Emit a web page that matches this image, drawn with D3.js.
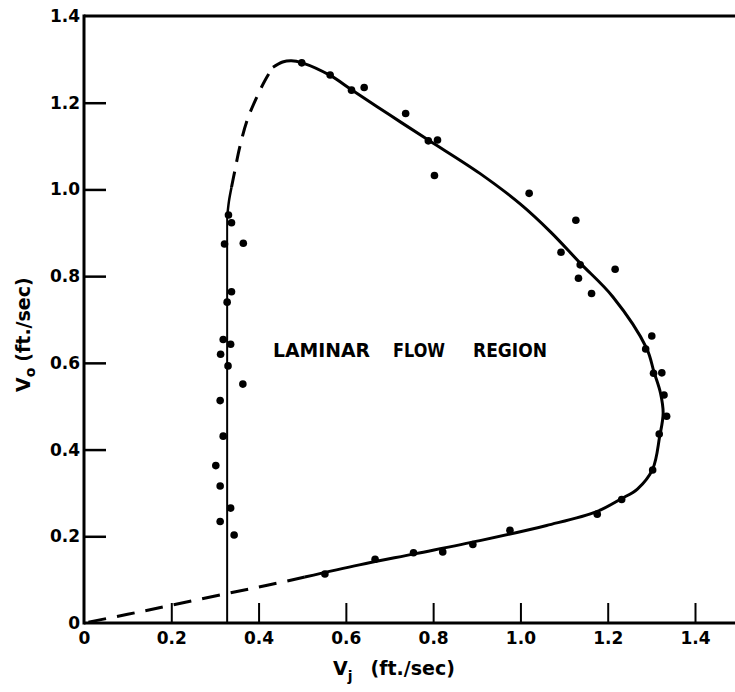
<!DOCTYPE html>
<html>
<head>
<meta charset="utf-8">
<script src="https://cdn.jsdelivr.net/npm/d3@7"></script>
<style>
  html, body { margin: 0; padding: 0; background: #fff; }
  svg { display: block; }
  text { font-family: "DejaVu Sans", sans-serif; fill: #000; }
</style>
</head>
<body>
<svg id="chart" width="735" height="692"></svg>
<script>
// Measured jet velocity Vj and outer velocity Vo (ft./sec)
const vj = [0.499, 0.564, 0.613, 0.642, 0.737, 0.789, 0.810, 0.803, 1.020, 1.127,
            1.093, 1.137, 1.217, 1.133, 1.163, 1.301, 1.287, 1.305, 1.324, 1.329,
            1.335, 1.318, 1.303, 1.232, 1.176, 0.976, 0.891, 0.822, 0.755, 0.667,
            0.552,
            0.331, 0.338, 0.322, 0.365, 0.338, 0.328, 0.319, 0.336, 0.313, 0.330,
            0.364, 0.312, 0.319, 0.302, 0.312, 0.336, 0.312, 0.344];
const vo = [1.292, 1.264, 1.229, 1.235, 1.175, 1.112, 1.114, 1.032, 0.991, 0.929,
            0.855, 0.826, 0.816, 0.795, 0.760, 0.662, 0.632, 0.576, 0.577, 0.526,
            0.477, 0.436, 0.353, 0.285, 0.251, 0.214, 0.181, 0.164, 0.162, 0.147,
            0.113,
            0.941, 0.923, 0.874, 0.876, 0.764, 0.740, 0.654, 0.643, 0.620, 0.593,
            0.551, 0.513, 0.431, 0.363, 0.316, 0.265, 0.234, 0.203];

// Boundary of the laminar flow region, [Vj, Vo]
const boundarySolid = [[0.433, 1.282], [0.455, 1.294], [0.475, 1.297], [0.500, 1.292],
  [0.564, 1.263], [0.613, 1.230], [0.700, 1.172], [0.789, 1.114], [0.907, 1.037],
  [1.000, 0.966], [1.070, 0.901], [1.137, 0.830], [1.212, 0.752], [1.289, 0.634],
  [1.306, 0.579], [1.321, 0.530], [1.327, 0.484], [1.319, 0.430], [1.303, 0.355],
  [1.268, 0.309], [1.232, 0.287], [1.175, 0.257], [1.060, 0.225], [0.907, 0.190],
  [0.760, 0.160], [0.631, 0.134], [0.506, 0.106]];
const boundaryLowerDashed = [[0.506, 0.106], [0.420, 0.087], [0.328, 0.068],
  [0.200, 0.041], [0.100, 0.020], [0.0, 0.0]];
const boundaryLeftStraight = [[0.328, 0.0], [0.328, 0.935]];
const boundaryLeftBend = [[0.328, 0.935], [0.332, 0.972], [0.338, 1.005]];
const boundaryUpperDashed = [[0.338, 1.005], [0.345, 1.040], [0.357, 1.098],
  [0.374, 1.160], [0.396, 1.213], [0.415, 1.252], [0.433, 1.282]];

const xTicks = [0, 0.2, 0.4, 0.6, 0.8, 1.0, 1.2, 1.4];
const xTickLabels = ["0", "0.2", "0.4", "0.6", "0.8", "1.0", "1.2", "1.4"];
const yTicks = [0, 0.2, 0.4, 0.6, 0.8, 1.0, 1.2, 1.4];
const yTickLabels = ["0", "0.2", "0.4", "0.6", "0.8", "1.0", "1.2", "1.4"];

const svg = d3.select("#chart");
const x = d3.scaleLinear().domain([0, 1.4]).range([84, 695]);
const y = d3.scaleLinear().domain([0, 1.4]).range([623, 16]);
const W = 735;

// Frame: left axis, top rule, bottom axis
svg.append("line").attr("x1", x(0)).attr("x2", x(0)).attr("y1", y(1.4) - 1.5).attr("y2", y(0) + 1.5)
  .attr("stroke", "#000").attr("stroke-width", 3);
svg.append("line").attr("x1", x(0)).attr("x2", W).attr("y1", y(1.4)).attr("y2", y(1.4))
  .attr("stroke", "#000").attr("stroke-width", 3);
svg.append("line").attr("x1", x(0)).attr("x2", W).attr("y1", y(0)).attr("y2", y(0))
  .attr("stroke", "#000").attr("stroke-width", 3);

// Axes with inward ticks
const xAxis = d3.axisBottom(x).tickValues(xTicks)
  .tickFormat((d, i) => xTickLabels[i]).tickSizeInner(-20).tickSizeOuter(0).tickPadding(8);
const gx = svg.append("g").attr("transform", `translate(0,${y(0)})`).call(xAxis);
gx.select(".domain").remove();
gx.selectAll(".tick line").attr("stroke", "#000").attr("stroke-width", 2)
  .attr("display", d => (d === 0 ? "none" : null));
gx.selectAll(".tick text").attr("font-size", 17).attr("font-weight", "bold")
  .attr("font-family", "DejaVu Sans").attr("dy", "0.75em");

const yAxis = d3.axisLeft(y).tickValues(yTicks)
  .tickFormat((d, i) => yTickLabels[i]).tickSizeInner(-22).tickSizeOuter(0).tickPadding(4);
const gy = svg.append("g").attr("transform", `translate(${x(0)},0)`).call(yAxis);
gy.select(".domain").remove();
gy.selectAll(".tick line").attr("stroke", "#000").attr("stroke-width", 2.5)
  .attr("display", d => (d === 0 || d === 1.4 ? "none" : null));
gy.selectAll(".tick text").attr("font-size", 17).attr("font-weight", "bold")
  .attr("font-family", "DejaVu Sans");

// Boundary curves
const smooth = d3.line().x(d => x(d[0])).y(d => y(d[1])).curve(d3.curveCatmullRom.alpha(0.5));
const straight = d3.line().x(d => x(d[0])).y(d => y(d[1]));
svg.append("path").attr("d", smooth(boundarySolid)).attr("fill", "none")
  .attr("stroke", "#000").attr("stroke-width", 3);
svg.append("path").attr("d", smooth(boundaryLowerDashed)).attr("fill", "none")
  .attr("stroke", "#000").attr("stroke-width", 3).attr("stroke-dasharray", "18,11");
svg.append("path").attr("d", straight(boundaryLeftStraight)).attr("fill", "none")
  .attr("stroke", "#000").attr("stroke-width", 2);
svg.append("path").attr("d", smooth(boundaryLeftBend)).attr("fill", "none")
  .attr("stroke", "#000").attr("stroke-width", 2.5);
svg.append("path").attr("d", smooth(boundaryUpperDashed)).attr("fill", "none")
  .attr("stroke", "#000").attr("stroke-width", 3).attr("stroke-dasharray", "16,10");

// Data points
svg.append("g").selectAll("circle").data(vj.map((v, i) => [v, vo[i]])).join("circle")
  .attr("cx", d => x(d[0])).attr("cy", d => y(d[1])).attr("r", 3.8).attr("fill", "#000");

// Region label
const words = [["LAMINAR", 273, 97], ["FLOW", 393, 52], ["REGION", 473, 74]];
svg.append("g").selectAll("text").data(words).join("text")
  .attr("x", d => d[1]).attr("y", 357)
  .attr("font-size", 20).attr("font-weight", "bold")
  .attr("textLength", d => d[2]).attr("lengthAdjust", "spacingAndGlyphs")
  .text(d => d[0]);

// Axis titles
const xt = svg.append("text").attr("x", 333).attr("y", 675).attr("font-size", 19).attr("font-weight", "bold");
xt.append("tspan").text("V");
xt.append("tspan").attr("font-size", 14).attr("dy", 6).text("j");
xt.append("tspan").attr("dy", -6).attr("dx", 18).text("(ft./sec)");

const yt = svg.append("text").attr("transform", "translate(30,392) rotate(-90)")
  .attr("font-size", 19).attr("font-weight", "bold");
yt.append("tspan").text("V");
yt.append("tspan").attr("font-size", 14).attr("dy", 5).text("o");
yt.append("tspan").attr("dy", -5).attr("dx", 6).text("(ft./sec)");
</script>
</body>
</html>
